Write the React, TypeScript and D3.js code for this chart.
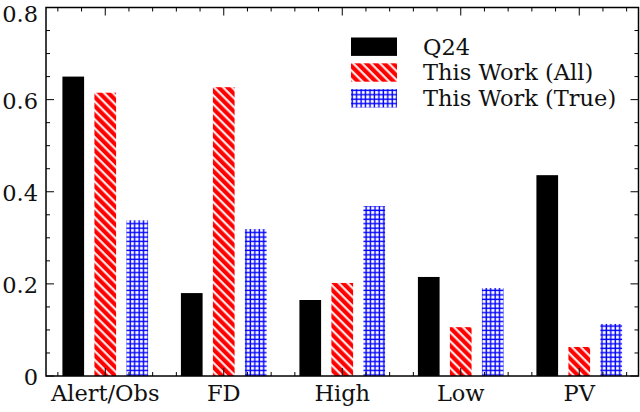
import React from 'react'
import * as d3 from 'd3'

const categories = ['Alert/Obs', 'FD', 'High', 'Low', 'PV']
const q24Values = [0.650, 0.180, 0.165, 0.215, 0.436]
const allValues = [0.615, 0.627, 0.202, 0.106, 0.063]
const trueValues = [0.338, 0.319, 0.369, 0.191, 0.113]
const seriesNames = ['Q24', 'This Work (All)', 'This Work (True)']
const yTicks = [0, 0.2, 0.4, 0.6, 0.8]

const W = 640
const H = 412
const margin = { left: 46, right: 1.5, top: 7.5, bottom: 36 }
const font = "'DejaVu Serif', serif"

const fills = ['#000000', 'url(#hatchRed)', 'url(#hatchBlue)']
const offsets = [-0.27, 0, 0.27]
const barW = 0.183

export default function App() {
  const x = d3.scaleLinear().domain([-0.5, 4.5]).range([margin.left, W - margin.right])
  const y = d3.scaleLinear().domain([0, 0.8]).range([H - margin.bottom, margin.top])
  const series = [q24Values, allValues, trueValues]

  const x0 = x(-0.5), x1 = x(4.5), y0 = y(0), y1 = y(0.8)
  const xMinor = d3.range(-0.4, 4.45, 0.2).filter(v => Math.abs(v - Math.round(v)) > 0.01)
  const yMinor = d3.range(0, 0.801, 0.05).filter(v => !yTicks.some(t => Math.abs(t - v) < 0.001))
  const major = 8
  const minor = 4
  const rp = 6.3 // red hatch spacing
  const bp = 4.45 // blue hatch spacing

  return (
    <svg width={W} height={H} style={{ position: 'absolute', left: 0, top: 0 }} fontFamily={font}>
      <defs>
        <pattern id="hatchRed" patternUnits="userSpaceOnUse" width={rp} height={rp} patternTransform="rotate(-45)">
          <rect width={rp} height={rp} fill="#ff0000" />
          <line x1={1.5} y1={0} x2={1.5} y2={rp} stroke="#fff" strokeWidth={2} />
        </pattern>
        <pattern id="hatchBlue" patternUnits="userSpaceOnUse" width={bp} height={bp}>
          <rect width={bp} height={bp} fill="#fff" />
          <line x1={1.2} y1={0} x2={1.2} y2={bp} stroke="#0000ff" strokeWidth={1.4} />
          <line x1={0} y1={1.2} x2={bp} y2={1.2} stroke="#0000ff" strokeWidth={1.4} />
        </pattern>
      </defs>
      <rect width={W} height={H} fill="#fff" />

      {/* bars */}
      {series.map((vals, s) => (
        <g key={s}>
          {vals.map((v, i) => (
            <rect key={i}
              x={x(i + offsets[s] - barW / 2)}
              y={y(v)}
              width={x(barW) - x(0)}
              height={y(0) - y(v)}
              fill={fills[s]} />
          ))}
        </g>
      ))}

      {/* ticks */}
      <g stroke="#000" strokeWidth={1}>
        {categories.map((_, i) => (
          <g key={i}>
            <line x1={x(i)} x2={x(i)} y1={y0} y2={y0 - major} />
            <line x1={x(i)} x2={x(i)} y1={y1} y2={y1 + major} />
          </g>
        ))}
        {xMinor.map((v, i) => (
          <g key={i}>
            <line x1={x(v)} x2={x(v)} y1={y0} y2={y0 - minor} />
            <line x1={x(v)} x2={x(v)} y1={y1} y2={y1 + minor} />
          </g>
        ))}
        {yTicks.map((v, i) => (
          <g key={i}>
            <line x1={x0} x2={x0 + major} y1={y(v)} y2={y(v)} />
            <line x1={x1} x2={x1 - major} y1={y(v)} y2={y(v)} />
          </g>
        ))}
        {yMinor.map((v, i) => (
          <g key={i}>
            <line x1={x0} x2={x0 + minor} y1={y(v)} y2={y(v)} />
            <line x1={x1} x2={x1 - minor} y1={y(v)} y2={y(v)} />
          </g>
        ))}
      </g>
      <rect x={x0} y={y1} width={x1 - x0} height={y0 - y1} fill="none" stroke="#000" strokeWidth={1.5} />

      {/* tick labels */}
      <g fontSize={22.5} fill="#111">
        {yTicks.map((v, i) => (
          <text key={i} x={x0 - 8} y={Math.max(y(v) + 1, 14)} dy="0.35em" textAnchor="end">
            {v === 0 ? '0' : v.toFixed(1)}
          </text>
        ))}
        {categories.map((c, i) => (
          <text key={i} x={x(i)} y={y0 + 25} textAnchor="middle">{c}</text>
        ))}
      </g>

      {/* legend */}
      <g fontSize={22.5} fill="#111">
        {seriesNames.map((name, i) => (
          <g key={i} transform={`translate(351, ${37.5 + i * 25.8})`}>
            <rect width={46} height={18.4} fill={fills[i]} />
            <text x={72} y={9.2} dy="0.35em">{name}</text>
          </g>
        ))}
      </g>
    </svg>
  )
}
